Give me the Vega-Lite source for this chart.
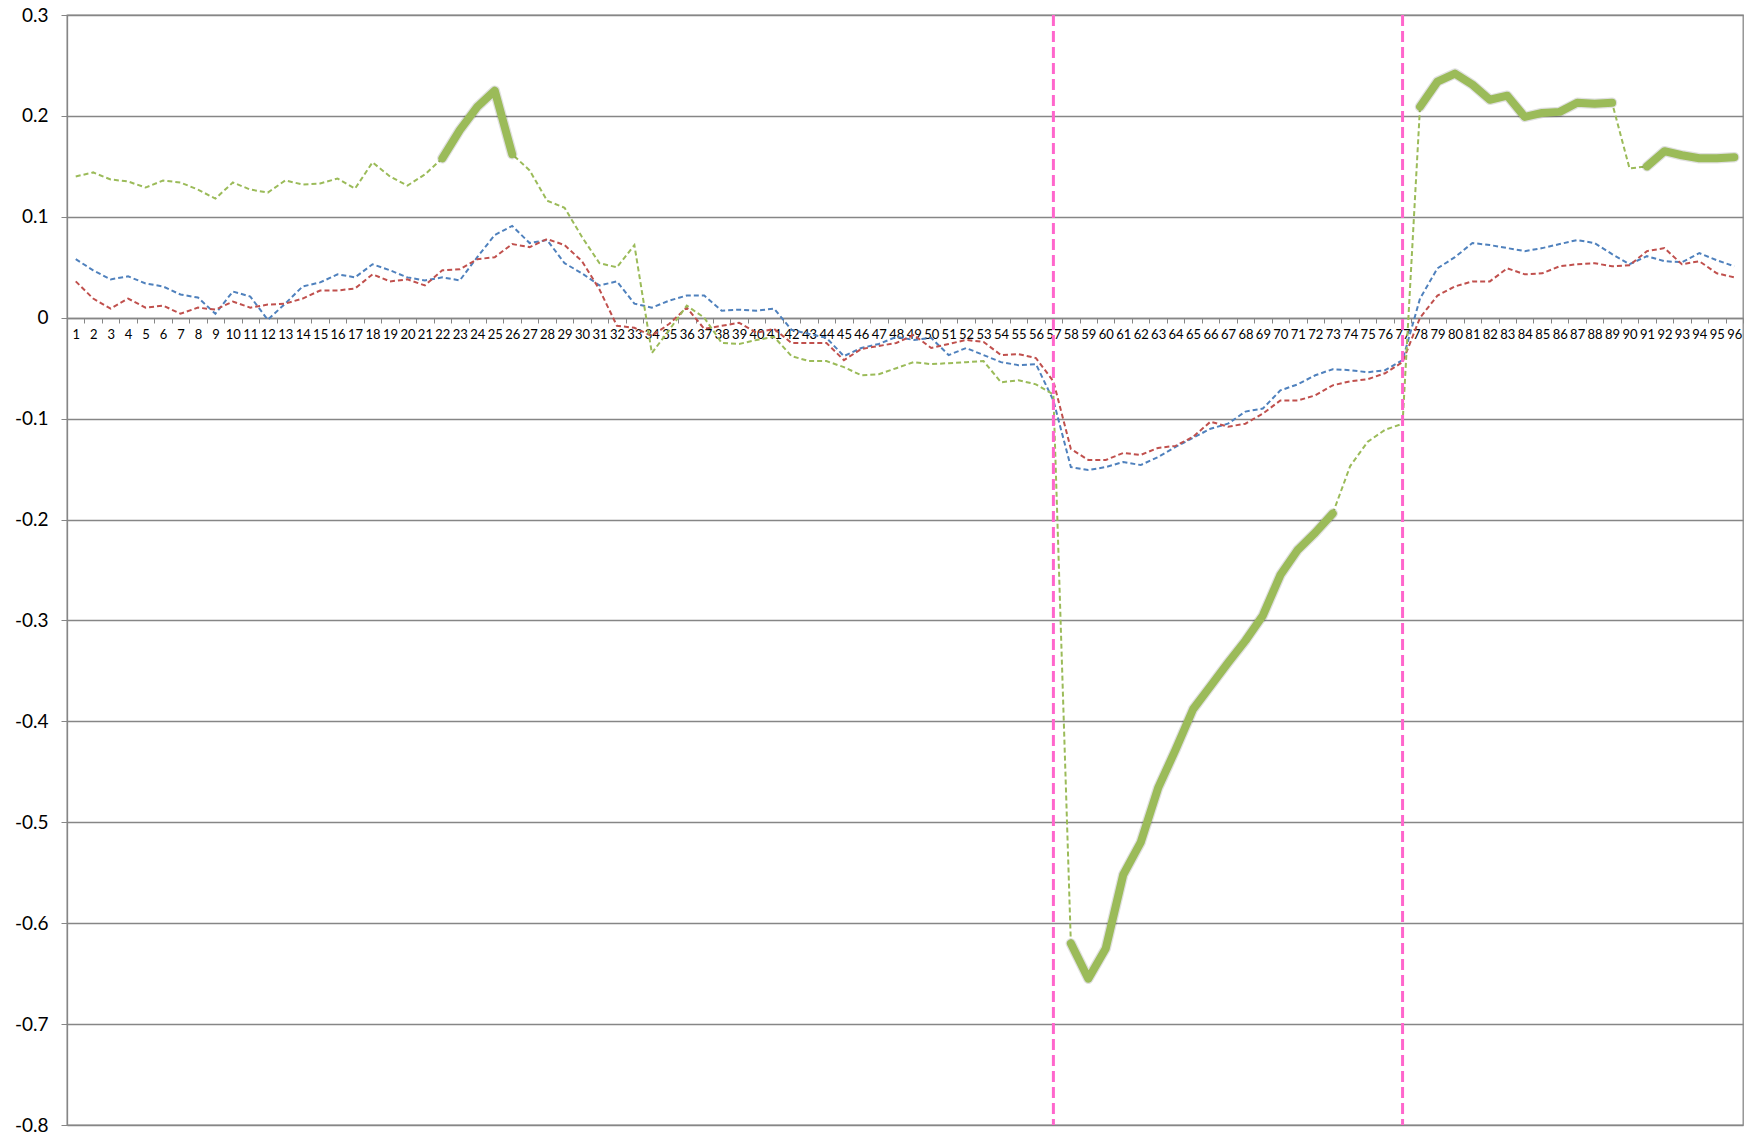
{
"$schema": "https://vega.github.io/schema/vega-lite/v6.json",
"width": 1676, "height": 1110,
"autosize": {"type": "none"},
"padding": {"left": 67, "top": 15, "right": 15, "bottom": 9},
"background": "white",
"config": {"view": {"stroke": "#868686", "strokeWidth": 1.3}, "font": "Lato"},
"datasets": {
"main": [
{"x":1,"blue":0.058,"red":0.036,"green":0.140},
{"x":2,"blue":0.047,"red":0.019,"green":0.144},
{"x":3,"blue":0.038,"red":0.009,"green":0.137},
{"x":4,"blue":0.041,"red":0.019,"green":0.135},
{"x":5,"blue":0.034,"red":0.010,"green":0.129},
{"x":6,"blue":0.031,"red":0.012,"green":0.136},
{"x":7,"blue":0.023,"red":0.004,"green":0.134},
{"x":8,"blue":0.020,"red":0.010,"green":0.127},
{"x":9,"blue":0.004,"red":0.008,"green":0.118},
{"x":10,"blue":0.026,"red":0.016,"green":0.134},
{"x":11,"blue":0.021,"red":0.010,"green":0.127},
{"x":12,"blue":-0.002,"red":0.013,"green":0.124},
{"x":13,"blue":0.014,"red":0.014,"green":0.136},
{"x":14,"blue":0.031,"red":0.019,"green":0.132},
{"x":15,"blue":0.035,"red":0.027,"green":0.133},
{"x":16,"blue":0.043,"red":0.027,"green":0.138},
{"x":17,"blue":0.040,"red":0.029,"green":0.128},
{"x":18,"blue":0.053,"red":0.043,"green":0.154},
{"x":19,"blue":0.047,"red":0.036,"green":0.140},
{"x":20,"blue":0.040,"red":0.038,"green":0.131},
{"x":21,"blue":0.037,"red":0.032,"green":0.142},
{"x":22,"blue":0.040,"red":0.047,"green":0.158,"t":"A"},
{"x":23,"blue":0.037,"red":0.048,"green":0.186,"t":"A"},
{"x":24,"blue":0.060,"red":0.058,"green":0.209,"t":"A"},
{"x":25,"blue":0.082,"red":0.060,"green":0.225,"t":"A"},
{"x":26,"blue":0.091,"red":0.073,"green":0.162,"t":"A"},
{"x":27,"blue":0.074,"red":0.070,"green":0.146},
{"x":28,"blue":0.077,"red":0.078,"green":0.116},
{"x":29,"blue":0.054,"red":0.072,"green":0.109},
{"x":30,"blue":0.044,"red":0.056,"green":0.080},
{"x":31,"blue":0.032,"red":0.028,"green":0.054},
{"x":32,"blue":0.036,"red":-0.008,"green":0.050},
{"x":33,"blue":0.014,"red":-0.010,"green":0.072},
{"x":34,"blue":0.010,"red":-0.018,"green":-0.035},
{"x":35,"blue":0.017,"red":-0.006,"green":-0.012},
{"x":36,"blue":0.022,"red":0.010,"green":0.012},
{"x":37,"blue":0.022,"red":-0.011,"green":0.000},
{"x":38,"blue":0.007,"red":-0.008,"green":-0.025},
{"x":39,"blue":0.008,"red":-0.005,"green":-0.026},
{"x":40,"blue":0.007,"red":-0.015,"green":-0.022},
{"x":41,"blue":0.009,"red":-0.011,"green":-0.019},
{"x":42,"blue":-0.012,"red":-0.025,"green":-0.038},
{"x":43,"blue":-0.016,"red":-0.025,"green":-0.043},
{"x":44,"blue":-0.020,"red":-0.025,"green":-0.043},
{"x":45,"blue":-0.038,"red":-0.042,"green":-0.049},
{"x":46,"blue":-0.030,"red":-0.031,"green":-0.057},
{"x":47,"blue":-0.026,"red":-0.028,"green":-0.056},
{"x":48,"blue":-0.019,"red":-0.025,"green":-0.050},
{"x":49,"blue":-0.022,"red":-0.017,"green":-0.044},
{"x":50,"blue":-0.020,"red":-0.030,"green":-0.046},
{"x":51,"blue":-0.037,"red":-0.026,"green":-0.045},
{"x":52,"blue":-0.030,"red":-0.022,"green":-0.044},
{"x":53,"blue":-0.037,"red":-0.024,"green":-0.043},
{"x":54,"blue":-0.044,"red":-0.037,"green":-0.064},
{"x":55,"blue":-0.047,"red":-0.036,"green":-0.062},
{"x":56,"blue":-0.046,"red":-0.040,"green":-0.066},
{"x":57,"blue":-0.082,"red":-0.063,"green":-0.076},
{"x":58,"blue":-0.148,"red":-0.130,"green":-0.620,"t":"B"},
{"x":59,"blue":-0.151,"red":-0.141,"green":-0.655,"t":"B"},
{"x":60,"blue":-0.148,"red":-0.141,"green":-0.625,"t":"B"},
{"x":61,"blue":-0.143,"red":-0.134,"green":-0.552,"t":"B"},
{"x":62,"blue":-0.146,"red":-0.136,"green":-0.520,"t":"B"},
{"x":63,"blue":-0.138,"red":-0.129,"green":-0.466,"t":"B"},
{"x":64,"blue":-0.128,"red":-0.127,"green":-0.428,"t":"B"},
{"x":65,"blue":-0.119,"red":-0.118,"green":-0.388,"t":"B"},
{"x":66,"blue":-0.110,"red":-0.103,"green":-0.365,"t":"B"},
{"x":67,"blue":-0.105,"red":-0.108,"green":-0.342,"t":"B"},
{"x":68,"blue":-0.093,"red":-0.105,"green":-0.320,"t":"B"},
{"x":69,"blue":-0.090,"red":-0.095,"green":-0.295,"t":"B"},
{"x":70,"blue":-0.072,"red":-0.082,"green":-0.255,"t":"B"},
{"x":71,"blue":-0.066,"red":-0.082,"green":-0.230,"t":"B"},
{"x":72,"blue":-0.057,"red":-0.077,"green":-0.213,"t":"B"},
{"x":73,"blue":-0.051,"red":-0.067,"green":-0.194,"t":"B"},
{"x":74,"blue":-0.052,"red":-0.063,"green":-0.147},
{"x":75,"blue":-0.054,"red":-0.061,"green":-0.123},
{"x":76,"blue":-0.052,"red":-0.055,"green":-0.111},
{"x":77,"blue":-0.042,"red":-0.044,"green":-0.105},
{"x":78,"blue":0.019,"red":0.000,"green":0.209,"t":"C"},
{"x":79,"blue":0.049,"red":0.022,"green":0.234,"t":"C"},
{"x":80,"blue":0.060,"red":0.031,"green":0.242,"t":"C"},
{"x":81,"blue":0.074,"red":0.036,"green":0.231,"t":"C"},
{"x":82,"blue":0.072,"red":0.036,"green":0.216,"t":"C"},
{"x":83,"blue":0.069,"red":0.049,"green":0.220,"t":"C"},
{"x":84,"blue":0.066,"red":0.043,"green":0.199,"t":"C"},
{"x":85,"blue":0.069,"red":0.044,"green":0.203,"t":"C"},
{"x":86,"blue":0.073,"red":0.051,"green":0.204,"t":"C"},
{"x":87,"blue":0.077,"red":0.053,"green":0.213,"t":"C"},
{"x":88,"blue":0.074,"red":0.054,"green":0.212,"t":"C"},
{"x":89,"blue":0.063,"red":0.051,"green":0.213,"t":"C"},
{"x":90,"blue":0.053,"red":0.052,"green":0.148},
{"x":91,"blue":0.061,"red":0.066,"green":0.150,"t":"D"},
{"x":92,"blue":0.056,"red":0.069,"green":0.165,"t":"D"},
{"x":93,"blue":0.055,"red":0.053,"green":0.161,"t":"D"},
{"x":94,"blue":0.064,"red":0.056,"green":0.158,"t":"D"},
{"x":95,"blue":0.057,"red":0.044,"green":0.158,"t":"D"},
{"x":96,"blue":0.051,"red":0.040,"green":0.159,"t":"D"}
],
"vlines": [{"x":57},{"x":77}]
},
"encoding": {
  "x": {"field": "x", "type": "ordinal", "title": null,
    "scale": {"type": "band", "paddingInner": 0, "paddingOuter": 0},
    "axis": {"orient": "bottom", "offset": -807, "labelAngle": 0, "labelFontSize": 13, "labelFont": "Lato",
      "labelColor": "#000", "labelPadding": 5, "tickSize": 5, "tickBand": "extent", "tickColor": "#868686",
      "domainColor": "#868686", "domainWidth": 1.3, "labelOverlap": false, "grid": false}}
},
"layer": [
  {"data": {"name": "main"},
   "transform": [{"fold": ["blue", "red", "green"], "as": ["s", "v"]}],
   "mark": {"type": "line", "strokeWidth": 2, "strokeDash": [5, 3]},
   "encoding": {
     "y": {"field": "v", "type": "quantitative", "title": null,
       "scale": {"domain": [-0.8, 0.3], "nice": false, "zero": false},
       "axis": {"values": [-0.8, -0.7, -0.6, -0.5, -0.4, -0.3, -0.2, -0.1, 0, 0.1, 0.2, 0.3],
         "labelExpr": "toString(datum.value)", "labelFontSize": 19, "labelFont": "Lato", "labelColor": "#000",
         "labelPadding": 13, "tickSize": 6, "tickColor": "#868686", "domainColor": "#868686", "domainWidth": 1.3,
         "gridColor": "#868686", "gridWidth": 1.3, "grid": true}},
     "color": {"field": "s", "type": "nominal", "legend": null,
       "scale": {"domain": ["blue", "red", "green"], "range": ["#4f81bd", "#c0504d", "#9bbb59"]}},
     "strokeWidth": {"field": "s", "type": "nominal", "legend": null,
       "scale": {"domain": ["blue", "red", "green"], "range": [2, 2, 1.6]}}
   }},
  {"data": {"name": "main"},
   "transform": [{"filter": "datum.t"}],
   "mark": {"type": "line", "color": "#000000", "opacity": 0.12, "strokeWidth": 10.5, "strokeJoin": "round", "strokeCap": "round"},
   "encoding": {
     "y": {"field": "green", "type": "quantitative", "title": null},
     "detail": {"field": "t", "type": "nominal"}
   }},
  {"data": {"name": "main"},
   "transform": [{"filter": "datum.t"}],
   "mark": {"type": "line", "color": "#9bbb59", "strokeWidth": 8, "strokeJoin": "round", "strokeCap": "round"},
   "encoding": {
     "y": {"field": "green", "type": "quantitative", "title": null},
     "detail": {"field": "t", "type": "nominal"}
   }},
  {"data": {"name": "vlines"},
   "mark": {"type": "rule", "color": "#ff66cc", "strokeWidth": 3, "strokeDash": [11, 5]},
   "encoding": {}}
]
}
